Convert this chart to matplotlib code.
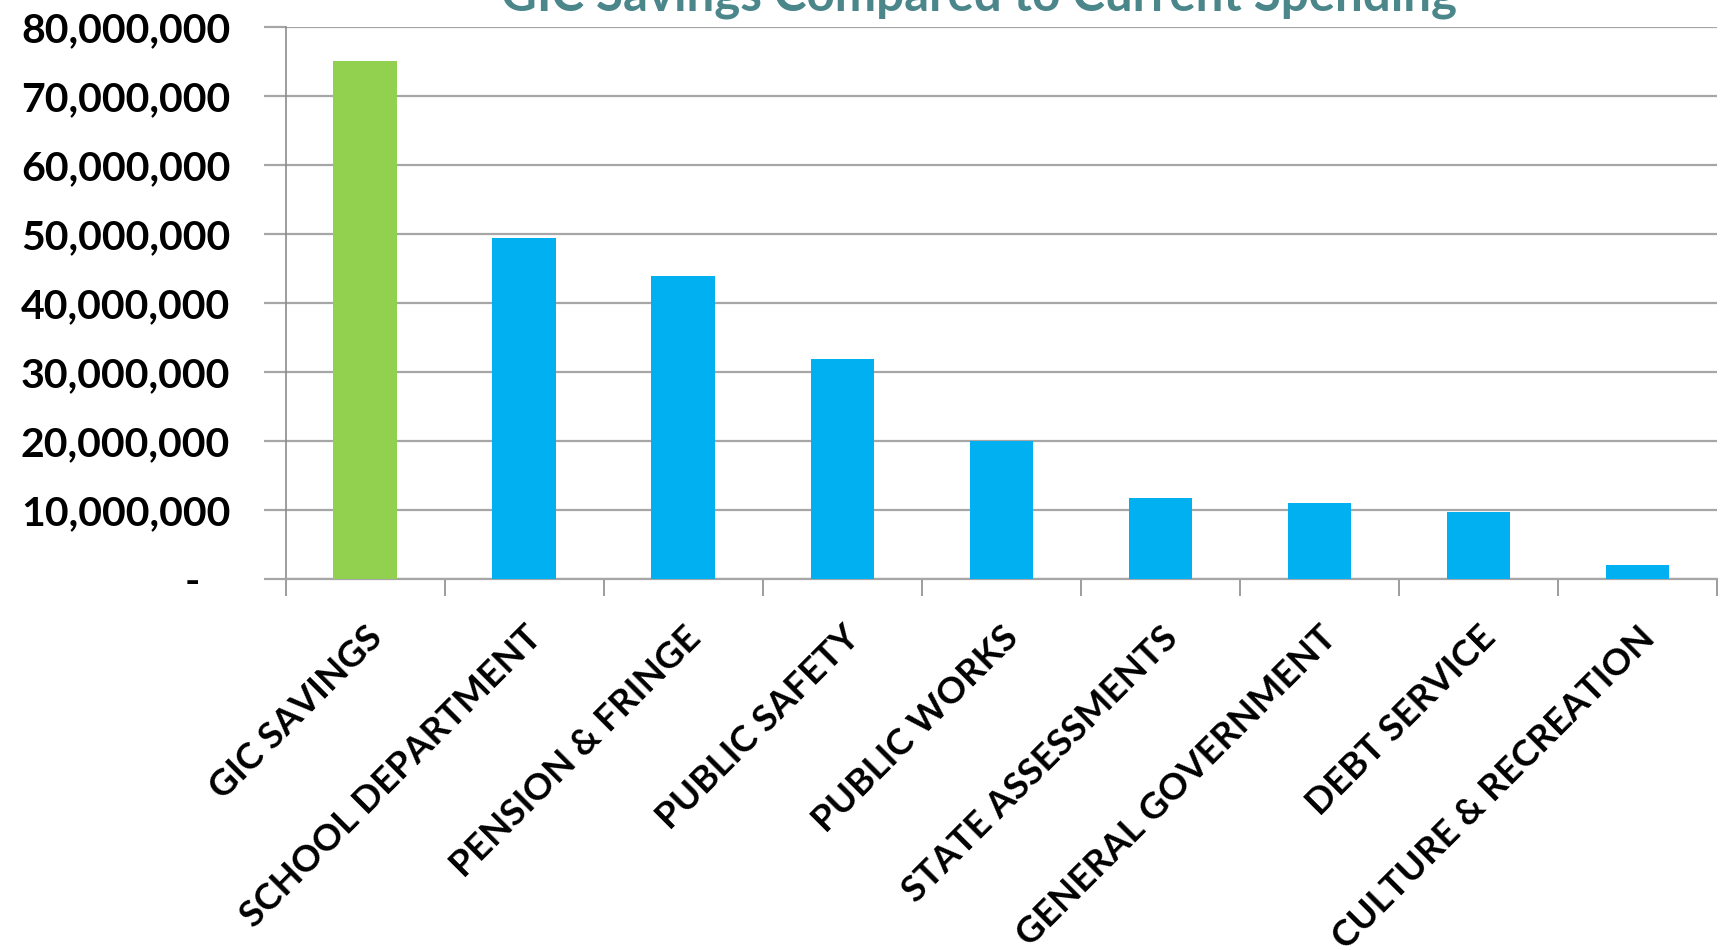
import matplotlib
matplotlib.use("Agg")
import matplotlib.pyplot as plt
from matplotlib.ticker import FuncFormatter, FixedLocator

categories = ["GIC SAVINGS", "SCHOOL DEPARTMENT", "PENSION & FRINGE", "PUBLIC SAFETY",
              "PUBLIC WORKS", "STATE ASSESSMENTS", "GENERAL GOVERNMENT", "DEBT SERVICE",
              "CULTURE & RECREATION"]
values = [75_000_000, 49_400_000, 43_900_000, 31_900_000, 20_000_000,
          11_700_000, 11_000_000, 9_700_000, 2_000_000]
bar_colors = ["#92D050"] + ["#00B0F0"] * 8
title = "GIC Savings Compared to Current Spending"

plt.rcParams["font.family"] = ["Lato", "DejaVu Sans"]

fig = plt.figure(figsize=(17.21, 9.5), dpi=100)
ax = fig.add_axes([0.166, 0.3905, 0.8317, 0.5811])

x = list(range(len(categories)))
ax.bar(x, values, width=0.4, color=bar_colors, zorder=3)

ax.set_xlim(-0.5, len(categories) - 0.5)
ax.set_ylim(0, 80_000_000)
ax.set_yticks(range(0, 80_000_001, 10_000_000))


def fmt(v, pos):
    if v == 0:
        return "-   "
    return f"{int(v):,}"


ax.yaxis.set_major_formatter(FuncFormatter(fmt))
ax.grid(axis="y", color="#A6A6A6", linewidth=1.6, zorder=0)
ax.set_axisbelow(True)

# category labels at centers, tick marks at boundaries
ax.set_xticks(x)
ax.set_xticklabels(categories, rotation=45, ha="right", va="top",
                   rotation_mode="anchor", fontsize=26.5, fontweight="bold")
ax.tick_params(axis="x", length=0, pad=30)
ax.xaxis.set_minor_locator(FixedLocator([i - 0.5 for i in range(len(categories) + 1)]))
ax.tick_params(axis="x", which="minor", length=12, width=1.2, color="#8C8C8C")

ax.tick_params(axis="y", length=16, width=1.6, color="#A6A6A6", pad=24,
               labelsize=29.5)
for lbl in ax.get_yticklabels():
    lbl.set_fontweight("bold")

for side in ["top", "right"]:
    ax.spines[side].set_visible(False)
ax.spines["left"].set_color("#8C8C8C")
ax.spines["left"].set_linewidth(1.2)
ax.spines["bottom"].set_color("#A6A6A6")
ax.spines["bottom"].set_linewidth(1.6)

fig.text(0.569, 0.989, title, ha="center", va="baseline", fontsize=35.5,
         fontweight="bold", color="#4A868A")

fig.savefig("out.png", dpi=100)
